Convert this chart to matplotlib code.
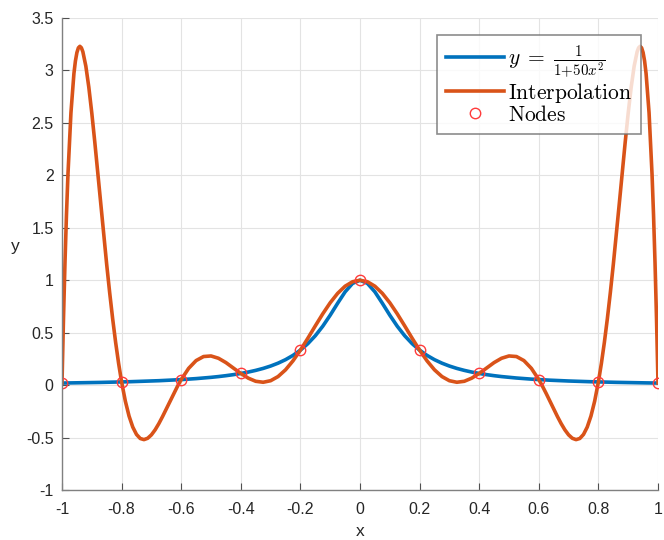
import numpy as np
import matplotlib
matplotlib.use("Agg")
import matplotlib.pyplot as plt

plt.rcParams['font.family'] = ['Liberation Sans', 'DejaVu Sans']
plt.rcParams['mathtext.fontset'] = 'cm'

# sample positions
x = [-1.0, -0.995, -0.99, -0.985, -0.98, -0.97, -0.96, -0.955, -0.95, -0.945, -0.94, -0.935,
     -0.93, -0.92, -0.91, -0.9, -0.89, -0.88, -0.87, -0.86, -0.85, -0.84, -0.83, -0.82, -0.81,
     -0.8, -0.7875, -0.775, -0.7625, -0.75, -0.7375, -0.725, -0.7125, -0.7, -0.6875, -0.675,
     -0.6625, -0.65, -0.6375, -0.625, -0.6125, -0.6, -0.575, -0.55, -0.525, -0.5, -0.475,
     -0.45, -0.425, -0.4, -0.375, -0.35, -0.325, -0.3, -0.275, -0.25, -0.225, -0.2, -0.175,
     -0.15, -0.125, -0.1, -0.075, -0.05, -0.025,
     0.0,
     0.025, 0.05, 0.075, 0.1, 0.125, 0.15, 0.175, 0.2, 0.225, 0.25, 0.275, 0.3, 0.325, 0.35,
     0.375, 0.4, 0.425, 0.45, 0.475, 0.5, 0.525, 0.55, 0.575, 0.6, 0.6125, 0.625, 0.6375,
     0.65, 0.6625, 0.675, 0.6875, 0.7, 0.7125, 0.725, 0.7375, 0.75, 0.7625, 0.775, 0.7875,
     0.8, 0.81, 0.82, 0.83, 0.84, 0.85, 0.86, 0.87, 0.88, 0.89, 0.9, 0.91, 0.92, 0.93,
     0.935, 0.94, 0.945, 0.95, 0.955, 0.96, 0.97, 0.98, 0.985, 0.99, 0.995, 1.0]

# blue curve y = 1/(1+50x^2)
y_func = [0.0196, 0.0198, 0.0200, 0.0202, 0.0204, 0.0208, 0.0212, 0.0215, 0.0217, 0.0219, 0.0221, 0.0224,
          0.0226, 0.0231, 0.0236, 0.0241, 0.0246, 0.0252, 0.0257, 0.0263, 0.0269, 0.0276, 0.0282, 0.0289, 0.0296,
          0.0303, 0.0312, 0.0322, 0.0333, 0.0343, 0.0355, 0.0367, 0.0379, 0.0392, 0.0406, 0.0420,
          0.0436, 0.0452, 0.0469, 0.0487, 0.0506, 0.0526, 0.0570, 0.0620, 0.0677, 0.0741, 0.0814,
          0.0899, 0.0997, 0.1111, 0.1245, 0.1404, 0.1592, 0.1818, 0.2092, 0.2424, 0.2832, 0.3333, 0.3951,
          0.4706, 0.5614, 0.6667, 0.7805, 0.8889, 0.9697,
          1.0,
          0.9697, 0.8889, 0.7805, 0.6667, 0.5614, 0.4706, 0.3951, 0.3333, 0.2832, 0.2424, 0.2092, 0.1818, 0.1592, 0.1404,
          0.1245, 0.1111, 0.0997, 0.0899, 0.0814, 0.0741, 0.0677, 0.0620, 0.0570, 0.0526, 0.0506, 0.0487, 0.0469,
          0.0452, 0.0436, 0.0420, 0.0406, 0.0392, 0.0379, 0.0367, 0.0355, 0.0343, 0.0333, 0.0322, 0.0312,
          0.0303, 0.0296, 0.0289, 0.0282, 0.0276, 0.0269, 0.0263, 0.0257, 0.0252, 0.0246, 0.0241, 0.0236, 0.0231, 0.0226,
          0.0224, 0.0221, 0.0219, 0.0217, 0.0215, 0.0212, 0.0208, 0.0204, 0.0202, 0.0200, 0.0198, 0.0196]

# orange interpolation curve
y_interp = [0.0196, 0.6352, 1.1677, 1.6240, 2.0102, 2.5965, 2.9704, 3.0899, 3.1703, 3.2157, 3.2299, 3.2164,
            3.1783, 3.0411, 2.8401, 2.5937, 2.3179, 2.0255, 1.7278, 1.4333, 1.1491, 0.8807, 0.6322, 0.4066, 0.2063,
            0.0303, -0.1523, -0.2952, -0.4003, -0.4703, -0.5089, -0.5197, -0.5068, -0.4744, -0.4264, -0.3668,
            -0.2993, -0.2272, -0.1535, -0.0809, -0.0115, 0.0526, 0.1600, 0.2339, 0.2724, 0.2779, 0.2560,
            0.2149, 0.1635, 0.1111, 0.0664, 0.0365, 0.0272, 0.0418, 0.0815, 0.1455, 0.2310, 0.3333, 0.4468,
            0.5645, 0.6796, 0.7852, 0.8748, 0.9429, 0.9855,
            1.0,
            0.9855, 0.9429, 0.8748, 0.7852, 0.6796, 0.5645, 0.4468, 0.3333, 0.2310, 0.1455, 0.0815, 0.0418, 0.0272, 0.0365,
            0.0664, 0.1111, 0.1635, 0.2149, 0.2560, 0.2779, 0.2724, 0.2339, 0.1600, 0.0526, -0.0115, -0.0809, -0.1535,
            -0.2272, -0.2993, -0.3668, -0.4264, -0.4744, -0.5068, -0.5197, -0.5089, -0.4703, -0.4003, -0.2952, -0.1523,
            0.0303, 0.2063, 0.4066, 0.6322, 0.8807, 1.1491, 1.4333, 1.7278, 2.0255, 2.3179, 2.5937, 2.8401, 3.0411, 3.1783,
            3.2164, 3.2299, 3.2157, 3.1703, 3.0899, 2.9704, 2.5965, 2.0102, 1.6240, 1.1677, 0.6352, 0.0196]

x_nodes = [-1.0, -0.8, -0.6, -0.4, -0.2, 0.0, 0.2, 0.4, 0.6, 0.8, 1.0]
y_nodes = [0.0196, 0.0303, 0.0526, 0.1111, 0.3333, 1.0, 0.3333, 0.1111, 0.0526, 0.0303, 0.0196]

xticks = [-1, -0.8, -0.6, -0.4, -0.2, 0, 0.2, 0.4, 0.6, 0.8, 1]
xtick_labels = ['-1', '-0.8', '-0.6', '-0.4', '-0.2', '0', '0.2', '0.4', '0.6', '0.8', '1']
yticks = [-1, -0.5, 0, 0.5, 1, 1.5, 2, 2.5, 3, 3.5]
ytick_labels = ['-1', '-0.5', '0', '0.5', '1', '1.5', '2', '2.5', '3', '3.5']

fig = plt.figure(figsize=(6.64, 5.40), dpi=100)
ax = fig.add_axes([62 / 664, 50 / 540, 596 / 664, 472 / 540])

ax.plot(x, y_func, color='#0072BD', lw=2.6, solid_joinstyle='round',
        label=r'$y\;=\;\frac{1}{1{+}50x^2}$')
ax.plot(x, y_interp, color='#D95319', lw=2.6, solid_joinstyle='round',
        label=r'$\mathrm{Interpolation}$')
ax.plot(x_nodes, y_nodes, 'o', mfc='none', mec='#FF3B3B', ms=7.5, mew=1.0,
        label=r'$\mathrm{Nodes}$')

ax.set_xlim(-1, 1)
ax.set_ylim(-1, 3.5)
ax.set_xticks(xticks)
ax.set_xticklabels(xtick_labels)
ax.set_yticks(yticks)
ax.set_yticklabels(ytick_labels)
ax.grid(True, color='#E3E3E3', lw=0.8)
ax.set_axisbelow(True)

for s in ['top', 'right']:
    ax.spines[s].set_visible(False)
for s in ['left', 'bottom']:
    ax.spines[s].set_color('#808080')
    ax.spines[s].set_linewidth(1.0)
ax.tick_params(direction='in', length=5, color='#505050', labelsize=11.5,
               labelcolor='#262626', pad=6)
ax.tick_params(axis='x', pad=9)

ax.set_xlabel('x', fontsize=12.5, color='#262626', labelpad=5)
ax.set_ylabel('y', fontsize=12.5, color='#262626', rotation=0, labelpad=8)

leg = ax.legend(loc='upper right', bbox_to_anchor=(0.972, 0.965), fontsize=15.5,
                frameon=True, fancybox=False, edgecolor='#707070',
                handlelength=2.7, handletextpad=0.2, borderpad=0.4,
                labelspacing=0.0, borderaxespad=0)
leg.get_frame().set_linewidth(1.2)

fig.savefig('out.png', dpi=100)
